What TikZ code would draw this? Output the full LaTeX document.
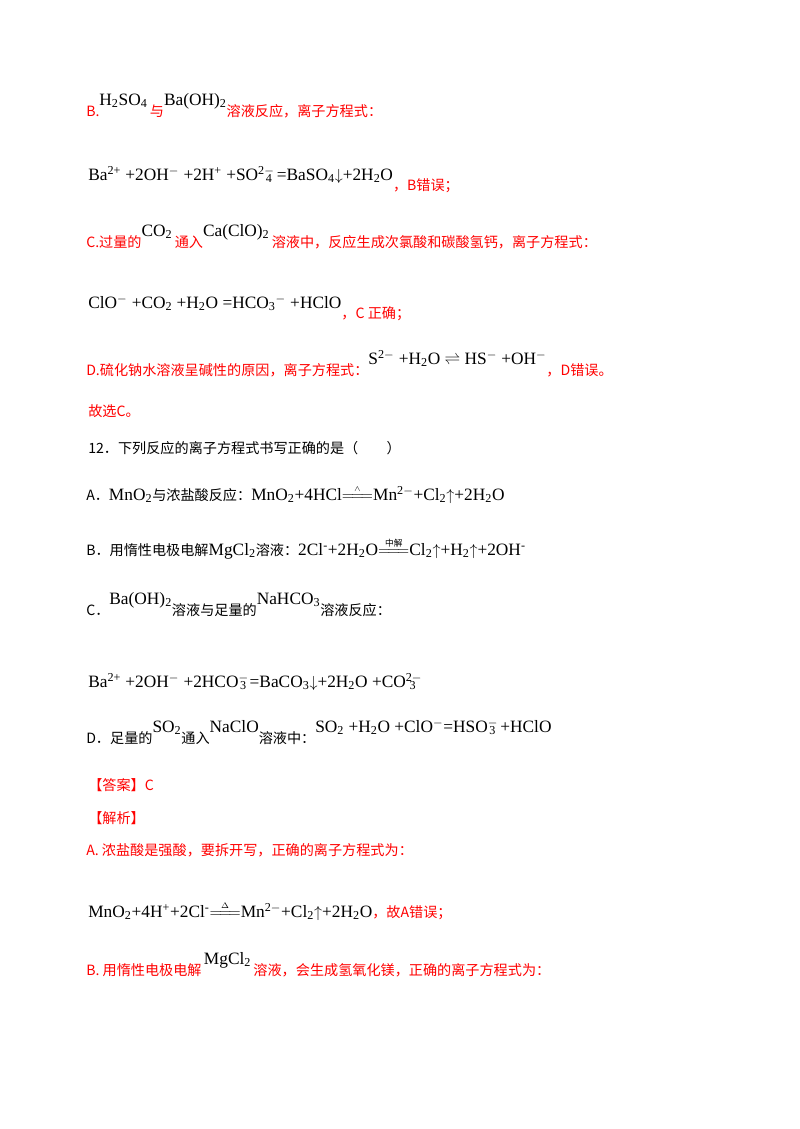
\documentclass[tikz,border=0pt]{standalone}
\usepackage{amsmath}
\usepackage{fontspec}
\setmainfont{Liberation Serif}
\newfontfamily\cjk{Noto Sans CJK SC}
\newcommand\dn[1]{\textsubscript{#1}}
\newcommand\up[1]{\textsuperscript{#1}}
\newcommand\eqd[1]{\ensuremath{\overset{\scriptscriptstyle\text{#1}}{=\!=\!=}}}
\newcommand\fm[1]{{\color{black}\rmfamily\fontsize{13}{15}\selectfont #1}}
\newcommand\rz[1]{\raisebox{8pt}{\fm{#1}}}

\begin{document}
\begin{tikzpicture}[x=0.75pt, y=-0.75pt,
  zh/.style={anchor=base west, inner sep=0pt, font=\cjk\fontsize{10.6}{13}\selectfont},
  rd/.style={zh, red}]
  \useasboundingbox (0,0) rectangle (800,1129);

  \node (b1) [rd] at (86,116) {B.\rz{H\dn2SO\dn4}\,与\rz{Ba(OH)\dn2}溶液反应，离子方程式：};
  \node (b2) [rd] at (88,180) {\fm{Ba\up{2+} +2OH\up{$-$} +2H\up{+} +SO\up{2$-$}\kern-1.1ex\dn4\ =BaSO\dn4$\downarrow$+2H\dn2O}\raisebox{-8pt}{，B错误；}};

  \node (c1) [rd] at (86,247) {C.过量的\rz{CO\dn2}\,通入\rz{Ca(ClO)\dn2}\,溶液中，反应生成次氯酸和碳酸氢钙，离子方程式：};
  \node (c2) [rd] at (88,308) {\fm{ClO\up{$-$} +CO\dn2 +H\dn2O =HCO\dn3\up{$-$} +HClO}\raisebox{-8pt}{，C 正确；}};

  \node (d1) [rd] at (86,375) {D.硫化钠水溶液呈碱性的原因，离子方程式：\rz{S\up{2$-$} +H\dn2O $\rightleftharpoons$ HS\up{$-$} +OH\up{$-$}}，D错误。};
  \node (sel) [rd] at (88,416) {故选C。};

  \node (q)  [zh] at (88,453) {12．下列反应的离子方程式书写正确的是（\qquad）};
  \node (qa) [zh] at (86,500) {A．\fm{MnO\dn2}与浓盐酸反应：\fm{MnO\dn2+4HCl\eqd{$\wedge$}Mn\up{2$-$}+Cl\dn2$\uparrow$+2H\dn2O}};
  \node (qb) [zh] at (86,555) {B．用惰性电极电解\fm{MgCl\dn2}溶液：\fm{2Cl\up{-}+2H\dn2O\eqd{\cjk 中解}Cl\dn2$\uparrow$+H\dn2$\uparrow$+2OH\up{-}}};
  \node (qc) [zh] at (86,615) {C．\rz{Ba(OH)\dn2}溶液与足量的\rz{NaHCO\dn3}溶液反应：};
  \node (qc1) [zh] at (88,687) {\fm{Ba\up{2+} +2OH\up{$-$} +2HCO\up{$-$}\kern-1.1ex\dn3\,=BaCO\dn3$\downarrow$+2H\dn2O +CO\up{2$-$}\kern-1.6ex\dn3}};
  \node (qd) [zh] at (86,743) {D．足量的\rz{SO\dn2}通入\rz{NaClO}溶液中：\rz{SO\dn2 +H\dn2O +ClO\up{$-$}=HSO\up{$-$}\kern-1.1ex\dn3\ +HClO}};

  \node (ans) [rd] at (88,790) {【答案】C};
  \node (ana) [rd] at (88,823) {【解析】};
  \node (ea)  [rd] at (86,855) {A. 浓盐酸是强酸，要拆开写，正确的离子方程式为：};
  \node (ea1) [rd] at (88,917) {\fm{MnO\dn2+4H\up{+}+2Cl\up{-}\eqd{$\Delta$}Mn\up{2$-$}+Cl\dn2$\uparrow$+2H\dn2O}，故A错误；};
  \node (eb)  [rd] at (86,975) {B. 用惰性电极电解\,\rz{MgCl\dn2}\,溶液，会生成氢氧化镁，正确的离子方程式为：};
\end{tikzpicture}
\end{document}
